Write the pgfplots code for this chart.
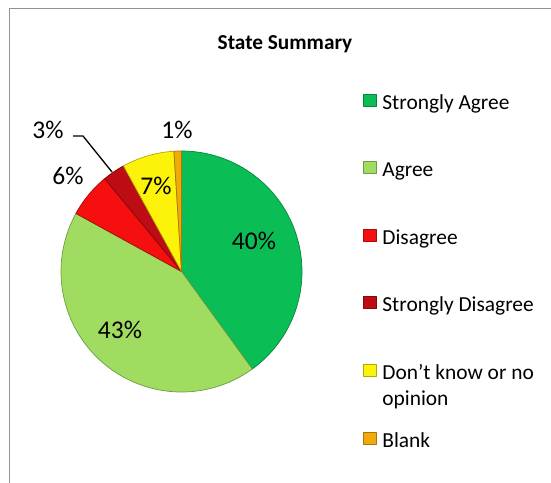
\documentclass[border=0pt]{standalone}
\usepackage{pgfplots}
\pgfplotsset{compat=1.18}
\usepackage{fontspec}
\setmainfont{Carlito}
\definecolor{sa}{RGB}{10,190,85}
\definecolor{ag}{RGB}{160,220,95}
\definecolor{di}{RGB}{245,15,15}
\definecolor{sd}{RGB}{190,12,20}
\definecolor{dk}{RGB}{252,242,10}
\definecolor{bl}{RGB}{240,170,10}
\definecolor{framec}{RGB}{145,145,145}
\newcommand{\cx}{181.5}
\newcommand{\cy}{271.5}
\newcommand{\R}{120.5}
% slice: #1 cumulative percent before, #2 percent, #3 colour
\newcommand{\slice}[3]{%
  \addplot[fill=#3, draw=#3!70!black, line width=0.7pt, line join=round,
    domain=90-3.6*(#1+#2):90-3.6*#1, samples=90, variable=\t]
    ({\cx+\R*cos(\t)},{\cy-\R*sin(\t)}) -- (axis cs:\cx,\cy) -- cycle;}
\begin{document}
\begin{tikzpicture}
\begin{axis}[name=ax,
  width=551bp, height=483bp, scale only axis,
  xmin=0, xmax=551, ymin=0, ymax=483, y dir=reverse,
  axis lines=none, clip=false,
  legend cell align=left,
  legend style={at={(axis cs:363,91)}, anchor=north west, draw=none, fill=none,
    inner sep=0pt, row sep=48.1bp,
    font=\fontsize{21.4bp}{25.7bp}\selectfont,
    nodes={inner sep=0pt},
    /tikz/every odd column/.append style={column sep=6bp}},
  legend image code/.code={\draw[#1] (0bp,-5bp) rectangle (12.5bp,7bp);},
]
% frame
\addplot[forget plot, framec, line width=1.8bp] coordinates {(9.5,483) (9.5,8.5) (551,8.5)};
% slices: Strongly Agree 40, Agree 43, Disagree 6, Strongly Disagree 3, Don't know 7, Blank 1
\slice{0}{40}{sa}
\addlegendentry{\strut Strongly Agree}
\slice{40}{43}{ag}
\addlegendentry{\strut Agree}
\slice{83}{6}{di}
\addlegendentry{\strut Disagree}
\slice{89}{3}{sd}
\addlegendentry{\strut Strongly Disagree}
\slice{92}{7}{dk}
\addlegendentry{\strut\smash{\begin{tabular}[t]{@{}l@{}}Don’t know or no\\opinion\end{tabular}}}
\slice{99}{1}{bl}
\addlegendentry{\strut Blank}
% leader line for 3%
\addplot[forget plot, black, line width=1.3bp] coordinates {(73,136) (83,136) (112,172)};
% title and data labels
\node[font=\bfseries\fontsize{21.3bp}{25bp}\selectfont] at (axis cs:285,44) {State Summary};
\begin{scope}[every node/.style={font=\fontsize{25.5bp}{30bp}\selectfont}]
\node at (axis cs:254,240.5) {40\%};
\node at (axis cs:120,330) {43\%};
\node at (axis cs:68,176) {6\%};
\node at (axis cs:48,130) {3\%};
\node at (axis cs:156,186) {7\%};
\node at (axis cs:177,130) {1\%};
\end{scope}
\end{axis}
\pgfresetboundingbox
\useasboundingbox (ax.south west) rectangle (ax.north east);
\end{tikzpicture}
\end{document}
